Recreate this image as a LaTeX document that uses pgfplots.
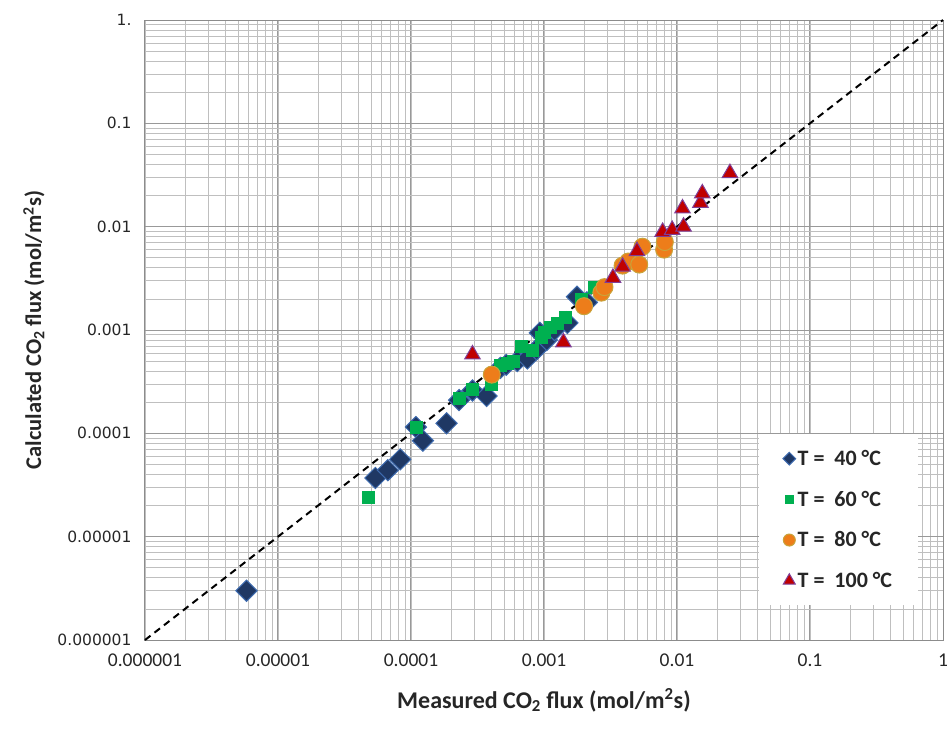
\documentclass[border=0pt]{standalone}
\usepackage{fontspec}
\setmainfont{Carlito}
\newfontfamily\dejavu{DejaVu Sans}
\usepackage{pgfplots}
\pgfplotsset{compat=1.18}

\definecolor{c40}{HTML}{1F3864}
\definecolor{c40e}{HTML}{3D6AAE}
\definecolor{c60}{HTML}{00B050}
\definecolor{c80}{HTML}{ED7D1A}
\definecolor{c80e}{HTML}{C9A33A}
\definecolor{c100}{HTML}{C00000}
\definecolor{c100e}{HTML}{7F3F98}

\pgfplotsset{
  s40/.style={only marks, mark=square*, mark size=7.5pt,
    mark options={rotate=45, fill=c40, draw=c40e, line width=1pt}},
  s60/.style={only marks, mark=square*, mark size=6pt,
    mark options={fill=c60, draw=c60, line width=0.5pt}},
  s80/.style={only marks, mark=*, mark size=8.5pt,
    mark options={fill=c80, draw=c80e, line width=1pt}},
  s100/.style={only marks, mark=triangle*, mark size=9pt,
    mark options={fill=c100, draw=c100e, line width=1pt}},
}

\begin{document}
\begin{tikzpicture}
\begin{axis}[
  xmode=log, ymode=log,
  scale only axis, width=798pt, height=620pt,
  xmin=1e-6, xmax=1, ymin=1e-6, ymax=1,
  xtick={1e-6,1e-5,1e-4,1e-3,1e-2,1e-1,1},
  ytick={1e-6,1e-5,1e-4,1e-3,1e-2,1e-1,1},
  xticklabels={0.000001,0.00001,0.0001,0.001,0.01,0.1,1},
  yticklabels={0.000001,0.00001,0.0001,0.001,0.01,0.1,1.},
  grid=both,
  major grid style={draw=black!40, line width=1pt},
  minor grid style={draw=black!25, line width=0.8pt},
  axis line style={draw=black!45, line width=1pt},
  major tick style={draw=none}, minor tick style={draw=none},
  xticklabel style={font=\fontsize{19.5}{22}\selectfont, text=black!85, yshift=-10pt},
  yticklabel style={font=\dejavu\fontsize{15.5}{18}\selectfont, text=black!85, xshift=-10pt},
  xlabel={Measured CO\textsubscript{2} flux (mol/m\textsuperscript{2}s)},
  ylabel={Calculated CO\textsubscript{2} flux (mol/m\textsuperscript{2}s)},
  xlabel style={font=\fontsize{24}{28}\selectfont\bfseries, text=black!85, yshift=-15pt},
  ylabel style={font=\fontsize{22.5}{26}\selectfont\bfseries, text=black!85, yshift=6pt},
  legend style={at={(0.969,0.056)}, anchor=south east, draw=none, fill=white,
    font=\fontsize{22}{26}\selectfont\bfseries, text=black!85,
    row sep=20pt, inner xsep=24pt, inner ysep=14pt},
  legend cell align=left,
  clip=false,
]
\coordinate (sw) at (rel axis cs:0,0);
\coordinate (ne) at (rel axis cs:1,1);

\addplot[black, line width=2pt, dash pattern=on 7pt off 5pt, forget plot]
  coordinates {(1e-6,1e-6) (1,1)};

\addplot[s40, forget plot] coordinates {
(5.8e-6,3.0e-6) (5.4e-5,3.7e-5) (6.7e-5,4.4e-5) (8.3e-5,5.6e-5)
(1.09e-4,1.15e-4) (1.23e-4,8.5e-5) (1.85e-4,1.25e-4) (2.3e-4,2.1e-4)
(2.9e-4,2.6e-4) (3.7e-4,2.3e-4) (4.7e-4,4.3e-4) (5.2e-4,4.6e-4)
(6.3e-4,5.0e-4) (7.5e-4,5.3e-4) (8.8e-4,6.5e-4) (9.3e-4,9.4e-4)
(1.05e-3,8.0e-4) (1.2e-3,1.0e-3) (1.5e-3,1.17e-3) (1.77e-3,2.1e-3)
(2.1e-3,1.85e-3)
};
\addplot[s60, forget plot] coordinates {
(4.8e-5,2.4e-5) (1.09e-4,1.15e-4) (2.3e-4,2.2e-4) (2.9e-4,2.7e-4)
(4.0e-4,3.0e-4) (4.7e-4,4.6e-4) (5.3e-4,4.8e-4) (5.9e-4,5.0e-4)
(6.8e-4,6.9e-4) (8.1e-4,6.4e-4) (9.5e-4,8.5e-4) (1.0e-3,9.5e-4)
(1.11e-3,1.07e-3) (1.25e-3,1.17e-3) (1.44e-3,1.34e-3) (1.9e-3,2.0e-3)
(2.4e-3,2.6e-3)
};
\addplot[s80, forget plot] coordinates {
(4.05e-4,3.7e-4) (2.0e-3,1.7e-3) (2.7e-3,2.3e-3) (2.85e-3,2.6e-3)
(3.9e-3,4.2e-3) (4.3e-3,4.6e-3) (5.2e-3,4.3e-3) (5.5e-3,6.4e-3)
(8.0e-3,6.0e-3) (8.1e-3,7.1e-3)
};
\addplot[s100, forget plot] coordinates {
(2.9e-4,5.8e-4) (1.4e-3,7.6e-4) (3.3e-3,3.2e-3) (3.9e-3,4.1e-3)
(5.0e-3,5.8e-3) (7.8e-3,8.9e-3) (9.2e-3,9.3e-3) (1.12e-2,1.0e-2)
(1.1e-2,1.5e-2) (1.5e-2,1.7e-2) (1.55e-2,2.1e-2) (2.5e-2,3.3e-2)
};

\addlegendimage{s40, mark size=4.5pt}
\addlegendentry{T =\ \ 40 °C}
\addlegendimage{s60, mark size=4pt}
\addlegendentry{T =\ \ 60 °C}
\addlegendimage{s80, mark size=6pt}
\addlegendentry{T =\ \ 80 °C}
\addlegendimage{s100, mark size=7pt}
\addlegendentry{T =\ \ 100 °C}
\end{axis}
\pgfresetboundingbox
\path ([shift={(-145pt,-100pt)}]sw) rectangle ([shift={(4pt,20pt)}]ne);
\end{tikzpicture}
\end{document}
